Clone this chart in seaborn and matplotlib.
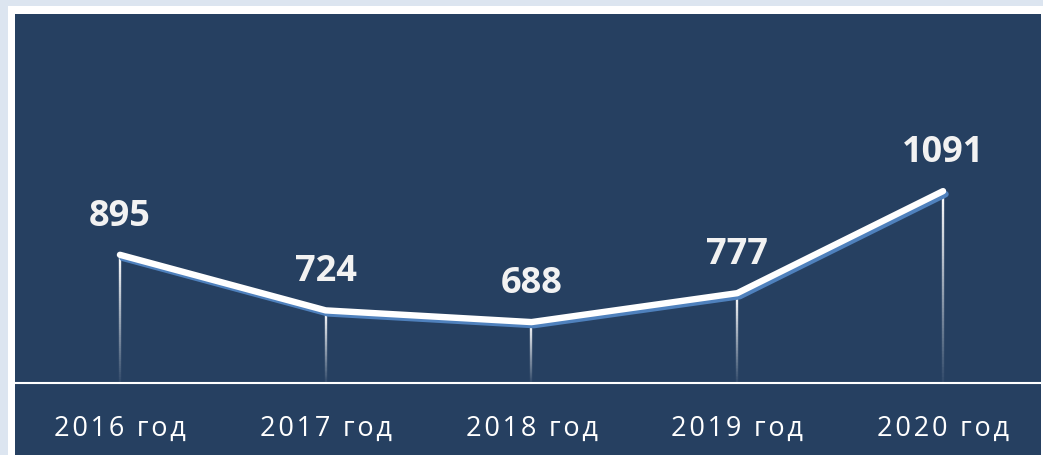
import numpy as np
import pandas as pd
import matplotlib
matplotlib.use("Agg")
import matplotlib.pyplot as plt
import matplotlib.patheffects as pe
from matplotlib.collections import LineCollection
from matplotlib.patches import Rectangle
import seaborn as sns

years = ["2016 год", "2017 год", "2018 год", "2019 год", "2020 год"]
values = [895, 724, 688, 777, 1091]

NAVY = "#264061"
SHADOW = "#4F81BD"
OUTER = "#DCE5F0"
BASE = 500

sns.set_theme(style="white")
plt.rcParams["font.family"] = ["Open Sans", "DejaVu Sans"]

df = pd.DataFrame({"pos": np.arange(len(years)), "year": years, "value": values})

fig = plt.figure(figsize=(10.43, 4.56), dpi=100)
fig.patch.set_facecolor(OUTER)
# white frame behind the navy card
fig.patches.append(Rectangle((8 / 1043, 0), 1 - 8 / 1043, 1 - 7 / 456,
                             transform=fig.transFigure, facecolor="white",
                             edgecolor="none", zorder=-10))

ax = fig.add_axes([15 / 1043, 0, 1026 / 1043, 441 / 456])
ax.set_facecolor(NAVY)
for s in ax.spines.values():
    s.set_visible(False)

# drop lines fading downwards
for x, v in zip(df["pos"], df["value"]):
    ys = np.linspace(v, BASE, 60)
    segs = [[(x, ys[i]), (x, ys[i + 1])] for i in range(len(ys) - 1)]
    alphas = np.linspace(1.0, 0.05, len(segs))
    cols = [(1, 1, 1, a) for a in alphas]
    ax.add_collection(LineCollection(segs, colors=cols, linewidths=1.7, zorder=2))

ax.axhline(BASE, color="white", lw=1.5, zorder=2)

sns.lineplot(data=df, x="pos", y="value", ax=ax, color="white", lw=4.6,
             solid_capstyle="round", solid_joinstyle="round", zorder=4,
             path_effects=[pe.SimpleLineShadow(offset=(1.8, -2.2), shadow_color=SHADOW,
                                               alpha=1.0),
                           pe.Normal()])

for x, v in zip(df["pos"], df["value"]):
    ax.annotate(f"{v}", (x, v), xytext=(0, 28), textcoords="offset points",
                ha="center", va="center", fontsize=26, fontweight="bold",
                color="#F2F2F2", zorder=5)

# spaced-out year labels
for x, lab in zip(df["pos"], df["year"]):
    ax.text(x, 362, "\u200a".join(lab), ha="center", va="center",
            fontsize=19.5, color="white")

ax.set_xlim(-0.510, 4.476)
ax.set_ylim(279, 1636)
ax.set_xticks([])
ax.set_yticks([])
ax.set_xlabel("")
ax.set_ylabel("")

fig.savefig("out.png", dpi=100, facecolor=fig.get_facecolor())
